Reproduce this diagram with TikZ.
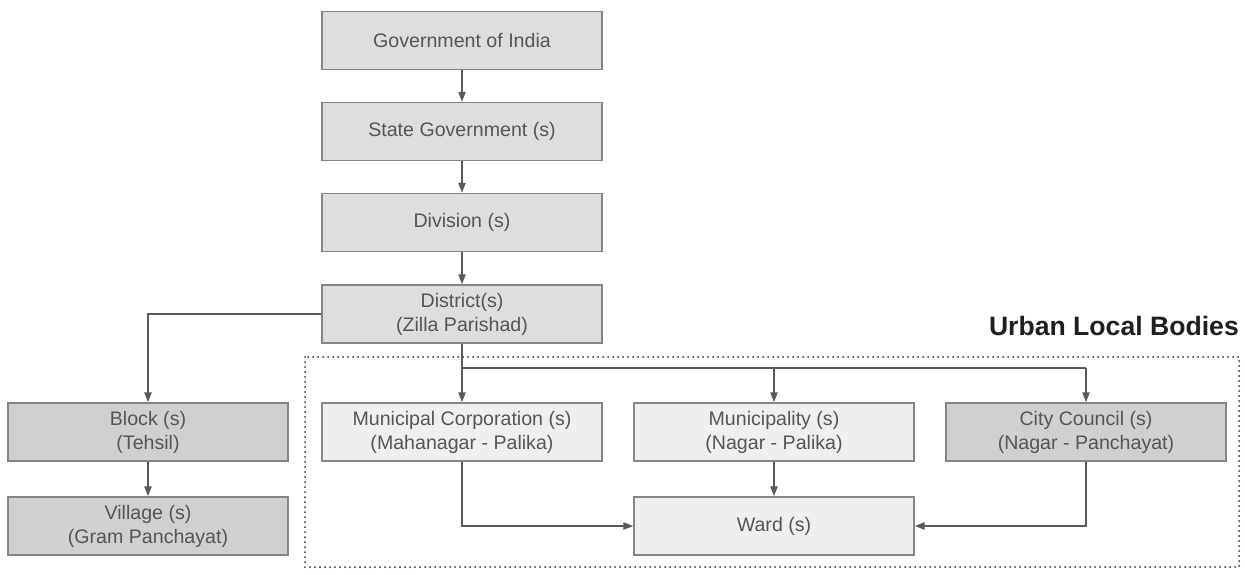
\documentclass[tikz,border=0pt]{standalone}
\usepackage{fontspec}
\setmainfont{Liberation Sans}
\usetikzlibrary{arrows.meta}
\definecolor{txt}{HTML}{555555}
\definecolor{ln}{HTML}{5A5A5A}
\definecolor{bd}{HTML}{858585}
\definecolor{fA}{HTML}{DEDEDE}
\definecolor{fB}{HTML}{D0D0D0}
\definecolor{fC}{HTML}{EFEFEF}
\begin{document}
\begin{tikzpicture}[x=1pt,y=-1pt,
  box/.style={draw=bd,line width=1.2pt,minimum width=280pt,minimum height=58pt,inner sep=0pt,
    align=center,text=txt,font=\fontsize{19.6}{24}\selectfont},
  boxA/.style={box,fill=fA},
  boxB/.style={box,fill=fB},
  boxC/.style={box,fill=fC},
  conn/.style={draw=ln,line width=2pt,-{Triangle[length=10pt,width=7pt]}},
  plain/.style={draw=ln,line width=2pt}]
\useasboundingbox (0,0) rectangle (1245,575);
\node[boxA] (goi) at (462,40.5) {Government of India};
\node[boxA] (state) at (462,131.5) {State Government (s)};
\node[boxA] (div) at (462,222.5) {Division (s)};
\node[boxA] (dist) at (462,314) {District(s)\\(Zilla Parishad)};
\node[boxB] (block) at (148,432) {Block (s)\\(Tehsil)};
\node[boxB] (vill) at (148,526) {Village (s)\\(Gram Panchayat)};
\node[boxC] (mc) at (462,432) {Municipal Corporation (s)\\(Mahanagar - Palika)};
\node[boxC] (mun) at (774,432) {Municipality (s)\\(Nagar - Palika)};
\node[boxB] (cc) at (1086,432) {City Council (s)\\(Nagar - Panchayat)};
\node[boxC] (ward) at (774,526) {Ward (s)};
\draw[black!80,line width=2pt,dash pattern=on 0pt off 5pt,line cap=round] (305,357) rectangle (1239,567);
\node[anchor=base east,inner sep=0pt,font=\fontsize{26.6}{28}\bfseries\selectfont,text=black!88] (ulb) at (1239,335) {Urban Local Bodies};
\coordinate (split) at (462,368);
\draw[conn] (goi) -- (state);
\draw[conn] (state) -- (div);
\draw[conn] (div) -- (dist);
\draw[conn] (dist.west) -| (block.north);
\draw[conn] (block) -- (vill);
\draw[conn] (dist.south) -- (mc.north);
\draw[plain] (split) -- (split -| cc.north);
\draw[conn] (split -| mun.north) -- (mun.north);
\draw[conn] (split -| cc.north) -- (cc.north);
\draw[conn] (mun) -- (ward);
\draw[conn] (mc.south) |- (ward.west);
\draw[conn] (cc.south) |- (ward.east);
\end{tikzpicture}
\end{document}
